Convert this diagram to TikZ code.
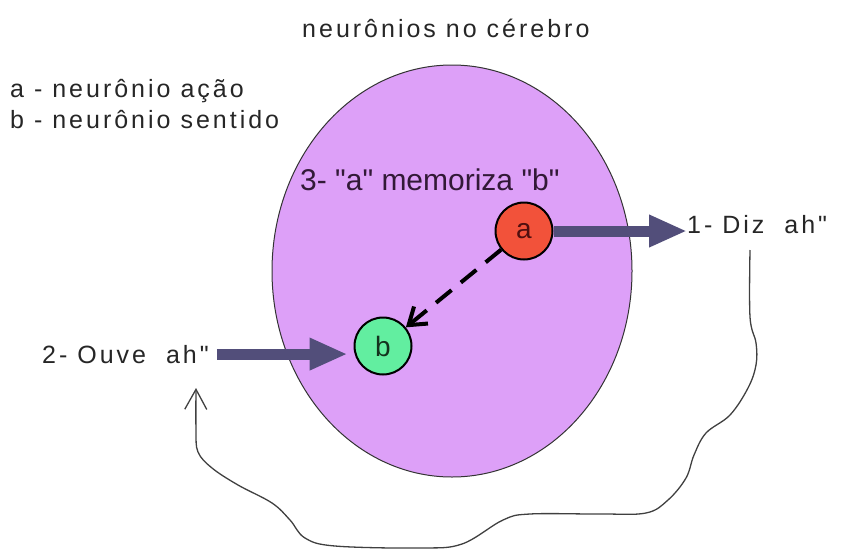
\documentclass[tikz,border=0pt]{standalone}
\usepackage{fontspec}
\setmainfont{Liberation Sans}
\newfontfamily\espacada[LetterSpace=12]{Liberation Sans}
\newfontfamily\rotulo{Liberation Sans}
\usetikzlibrary{arrows.meta}
\definecolor{lavanda}{RGB}{221,160,248}
\definecolor{vermelho}{RGB}{242,82,58}
\definecolor{verde}{RGB}{98,238,160}
\definecolor{azulseta}{RGB}{82,78,122}
\definecolor{tinta}{RGB}{50,25,55}

\begin{document}
\begin{tikzpicture}[x=1pt, y=-1pt,
    texto/.style={anchor=base west, inner sep=0pt, text=black!85, font=\espacada\fontsize{25}{30}\selectfont},
    neuronio/.style={circle, draw=black, line width=2pt, minimum size=57pt, inner sep=0pt, font=\fontsize{28}{30}\selectfont},
    seta/.style={draw=azulseta, line width=11pt, -{Triangle[length=38pt,width=30pt]}}]
    \useasboundingbox (0,0) rectangle (842,549);
    \coordinate (mente) at (452,271);
    \draw[fill=lavanda, draw=black!80, line width=1pt] (mente) ellipse [x radius=180, y radius=206];
    \node[texto] (titulo) at (302,37) {neurônios no cérebro};
    \node[texto] (legA) at (10,97) {a - neurônio ação};
    \node[texto] (legB) at (10,128) {b - neurônio sentido};
    \node[texto, text=tinta, font=\rotulo\fontsize{30}{34}\selectfont] (memo) at (300,190) {3- "a" memoriza "b"};
    \node[neuronio, fill=vermelho, text={rgb,255:red,80;green,15;blue,15}] (a) at (524,231) {a};
    \node[neuronio, fill=verde, text={rgb,255:red,20;green,50;blue,30}] (b) at (383,346) {b};
    \node[texto] (diz) at (687,233) {1- Diz\ \ ah"};
    \node[texto] (ouve) at (42,363) {2- Ouve\ \ ah"};
    % setas grossas
    \draw[seta] (a.east) -- (a.east -| diz.west);
    \draw[seta, shorten <=8pt, shorten >=6pt] (ouve.east) -- (ouve.east -| b.west);
    \draw[line width=4pt, dash pattern=on 20pt off 12pt, -{Straight Barb[length=16pt,width=22pt]}] (a) -- (b);
    % volta do som
    \coordinate (volta0) at (750,250); \coordinate (volta1) at (196,388);
    \draw[line width=1.3pt, black!75, -{Straight Barb[length=20pt,width=22pt]}]
        plot[smooth, tension=0.6] coordinates {(volta0) (750,317) (756,343) (756,365) (748,388) (730,415)
        (706,433) (694,455) (686,478) (668,500) (646,513) (600,514) (530,514) (503,520) (462,544) (420,548)
        (335,546) (305,538) (290,520) (272,503) (238,485) (212,468) (198,452) (196,430) (volta1)};
\end{tikzpicture}
\end{document}
